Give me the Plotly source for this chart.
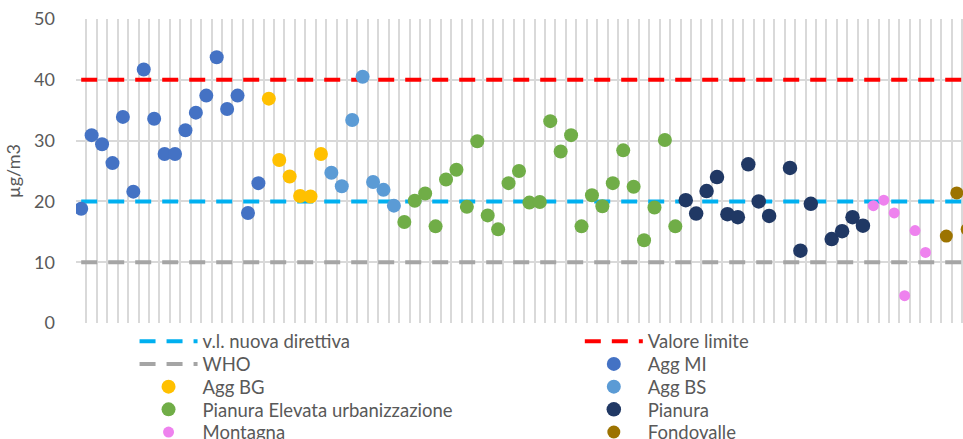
import plotly.graph_objects as go

# ---- data ----
agg_mi = [18.8, 30.9, 29.4, 26.3, 33.9, 21.6, 41.7, 33.6, 27.8, 27.8,
          31.7, 34.6, 37.4, 43.7, 35.2, 37.4, 18.1, 23.0]
agg_bg = [36.9, 26.8, 24.1, 20.9, 20.8, 27.8]
agg_bs = [24.7, 22.5, 33.4, 40.5, 23.2, 21.9, 19.3]
pianura_eu = [16.6, 20.1, 21.3, 15.9, 23.6, 25.2, 19.1, 29.9, 17.7, 15.4,
              23.0, 25.0, 19.8, 19.9, 33.2, 28.2, 30.9, 15.9, 21.0, 19.2,
              23.0, 28.4, 22.4, 13.6, 19.0, 30.1, 15.9]
pianura = [20.2, 18.0, 21.7, 24.0, 17.9, 17.4, 26.1, 20.0, 17.6, None,
           25.5, 11.9, 19.6, None, 13.8, 15.1, 17.4, 16.0]
montagna = [19.3, 20.2, 18.1, 4.5, 15.2, 11.6]
fondovalle = [None, 14.3, 21.4, 15.4]

vl_nuova_direttiva = 20
valore_limite = 40
who = 10

FONT = "Lato"
GREY = "#595959"

# (name, values, colour, marker size, legend slot)
groups = [
    ("Agg MI", agg_mi, "#4472C4", 14, (1, 1)),
    ("Agg BG", agg_bg, "#FFC000", 14, (2, 0)),
    ("Agg BS", agg_bs, "#5B9BD5", 14, (2, 1)),
    ("Pianura Elevata urbanizzazione", pianura_eu, "#70AD47", 14, (3, 0)),
    ("Pianura", pianura, "#203864", 14.5, (3, 1)),
    ("Montagna", montagna, "#EE82EE", 11, (4, 0)),
    ("Fondovalle", fondovalle, "#9C7300", 13, (4, 1)),
]
n_cat = sum(len(g[1]) for g in groups)
cats = list(range(n_cat))

limits = [
    ("v.l. nuova direttiva", vl_nuova_direttiva, "#00B0F0", (0, 0)),
    ("Valore limite", valore_limite, "#FF0000", (0, 1)),
    ("WHO", who, "#A5A5A5", (1, 0)),
]

H = 439
row_px = [341.7, 364.4, 387.1, 409.8, 432.5]
col_x = [0.066, 0.568]


def legend_id(slot):
    r, c = slot
    k = r * 2 + c + 1
    return "legend" if k == 1 else f"legend{k}"


fig = go.Figure()
for name, val, color, slot in limits:
    fig.add_trace(go.Scatter(
        x=cats, y=[val] * n_cat, mode="lines", name=name, legend=legend_id(slot),
        line=dict(color=color, width=4, dash="16px,11px"),
    ))

offset = 0
for name, vals, color, size, slot in groups:
    xs = list(range(offset, offset + len(vals)))
    fig.add_trace(go.Scatter(
        x=xs, y=vals, mode="markers", name=name, legend=legend_id(slot),
        marker=dict(color=color, size=size, line=dict(width=0)),
    ))
    offset += len(vals)

legends = {}
for r in range(5):
    for c in range(2):
        legends[legend_id((r, c))] = dict(
            orientation="v", xanchor="left", yanchor="middle", yref="container",
            x=col_x[c], y=1 - row_px[r] / H,
            font=dict(family=FONT, size=18.5, color=GREY), itemwidth=58,
            bgcolor="rgba(0,0,0,0)", borderwidth=0,
        )

fig.update_layout(
    width=963, height=H,
    margin=dict(l=76, r=0, t=19, b=116, autoexpand=False),
    plot_bgcolor="white", paper_bgcolor="white",
    font=dict(family=FONT, size=17, color=GREY),
    showlegend=True,
    **legends,
    xaxis=dict(
        range=[-0.5, 84.6], tickmode="linear", tick0=-0.5, dtick=1,
        showticklabels=False, showgrid=True, gridcolor="#D9D9D9", gridwidth=1.5,
        zeroline=False, showline=False, ticks="",
    ),
    yaxis=dict(
        range=[0, 50], tickmode="linear", tick0=0, dtick=10,
        showgrid=True, gridcolor="#D9D9D9", gridwidth=1.5,
        zeroline=False, showline=False, ticks="",
        tickfont=dict(family=FONT, size=18, color=GREY),
        ticklabelstandoff=20,
        title=dict(text="µg/m3", font=dict(family=FONT, size=18, color=GREY), standoff=8),
    ),
)

fig.write_html(
    "out.html",
    config={"displayModeBar": False},
    post_script="document.body.style.margin='0';document.body.style.padding='0';",
)
